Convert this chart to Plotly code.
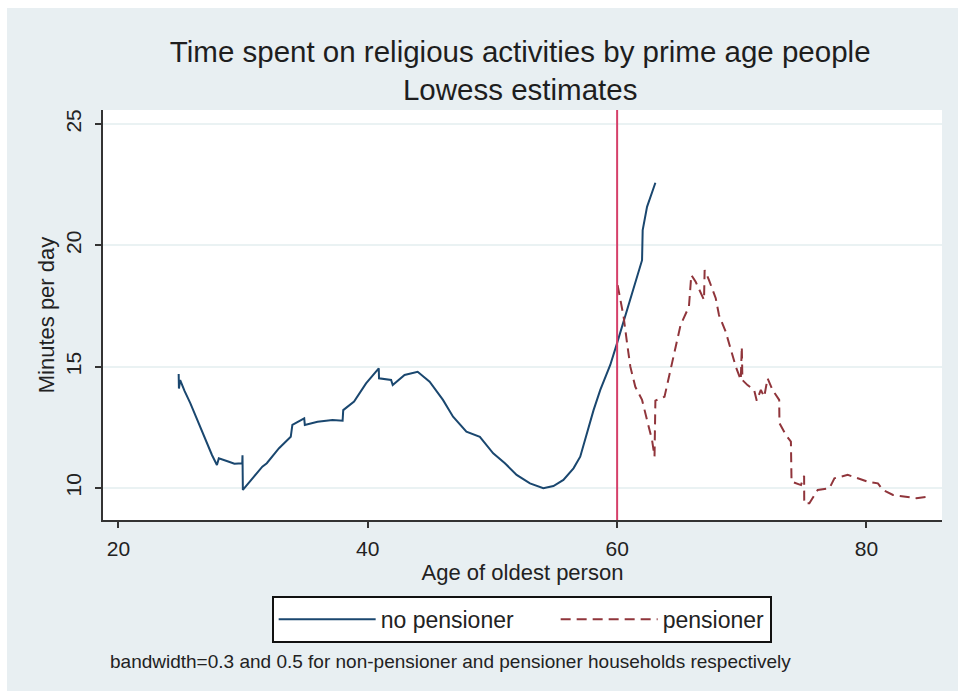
import plotly.graph_objects as go

# Lowess estimates, minutes per day spent on religious activities
age_no_pension = [24.83, 24.85, 24.95, 25.3, 25.77, 26.44, 26.98, 27.5, 27.9, 28.05, 28.86, 29.3,
                  29.93, 29.95, 29.98, 30.4, 30.87, 31.54, 31.9, 32.88, 33.82, 33.95, 34.9, 34.95,
                  35.97, 37.17, 37.98, 38.03, 38.9, 39.86, 40.88, 40.9, 41.87, 42.0, 42.95, 44.0,
                  44.96, 46.03, 46.84, 47.91, 48.99, 50.06, 51.0, 51.94, 53.01, 54.08, 54.89, 55.69,
                  56.5, 57.04, 57.58, 58.11, 58.65, 59.45, 59.99, 61.06, 62.0, 62.05, 62.4, 63.07]
min_no_pension = [14.70, 14.10, 14.45, 14.0, 13.49, 12.67, 11.98, 11.36, 10.95, 11.22, 11.08, 11.0,
                  11.02, 11.35, 9.92, 10.2, 10.47, 10.88, 11.02, 11.64, 12.11, 12.6, 12.87, 12.6,
                  12.73, 12.8, 12.77, 13.21, 13.56, 14.31, 14.93, 14.52, 14.45, 14.24, 14.66, 14.79,
                  14.38, 13.63, 12.94, 12.32, 12.11, 11.43, 11.02, 10.54, 10.19, 9.99, 10.08, 10.33,
                  10.81, 11.29, 12.25, 13.21, 14.04, 15.07, 15.96, 17.75, 19.39, 20.63, 21.59, 22.58]

age_pension = [60.04, 60.26, 60.52, 60.8, 61.06, 61.46, 62.0, 62.4, 62.8, 63.0, 63.07, 63.8,
               64.28, 64.69, 65.09, 65.76, 65.95, 66.3, 66.7, 66.97, 67.02, 67.37, 67.91, 68.17,
               68.71, 69.11, 69.52, 69.92, 70.0, 70.05, 70.46, 70.99, 71.2, 71.53, 71.8, 72.07,
               72.47, 73.0, 73.02, 73.54, 73.94, 73.99, 74.75, 75.0, 75.01, 75.42, 76.09, 77.03,
               77.43, 78.5, 79.31, 80.11, 80.92, 81.32, 82.13, 83.07, 84.0, 84.94]
min_pension = [18.36, 17.75, 17.06, 15.96, 15.0, 14.17, 13.63, 12.8, 11.98, 11.3, 13.6, 13.76,
               14.86, 15.82, 16.72, 17.47, 18.78, 18.5, 18.02, 17.75, 18.98, 18.57, 17.82, 17.13,
               16.44, 15.69, 15.0, 14.45, 15.82, 14.45, 14.24, 14.04, 13.6, 14.04, 13.76, 14.52,
               14.04, 13.63, 12.67, 12.18, 11.91, 10.26, 10.12, 10.5, 9.37, 9.37, 9.92, 9.99,
               10.4, 10.54, 10.4, 10.26, 10.19, 9.92, 9.71, 9.64, 9.58, 9.64]

x_ticks = [20, 40, 60, 80]
y_ticks = [10, 15, 20, 25]
pension_age = 60

title_text = "Time spent on religious activities by prime age people<br>Lowess estimates"
note_text = "bandwidth=0.3 and 0.5 for non-pensioner and pensioner households respectively"

FONT = "Liberation Sans, Arial, sans-serif"
BG = "#e8eff2"
TXT = "#222222"

fig = go.Figure()
fig.add_trace(go.Scatter(
    x=age_no_pension, y=min_no_pension, mode="lines", name="no pensioner",
    line=dict(color="#1a476f", width=2), legendwidth=170,
))
fig.add_trace(go.Scatter(
    x=age_pension, y=min_pension, mode="lines", name="pensioner",
    line=dict(color="#90353b", width=2, dash="10px,6px"),
))

# pension eligibility age
fig.add_shape(type="line", xref="x", yref="y domain", x0=pension_age, x1=pension_age,
              y0=0, y1=1, line=dict(color="#d5406a", width=2), layer="above")

# thin white frame along the left and top edges of the canvas
fig.add_shape(type="rect", xref="paper", yref="paper", x0=-103 / 839, x1=-96 / 839,
              y0=-171 / 410, y1=1 + 110 / 410, line_width=0, fillcolor="white", layer="below")
fig.add_shape(type="rect", xref="paper", yref="paper", x0=-103 / 839, x1=1 + 16 / 839,
              y0=1 + 102 / 410, y1=1 + 110 / 410, line_width=0, fillcolor="white", layer="below")

fig.add_annotation(text=note_text, xref="paper", yref="paper", x=0.006, y=-0.344,
                   xanchor="left", yanchor="middle", showarrow=False,
                   font=dict(family=FONT, size=19, color=TXT))

fig.update_layout(
    width=958, height=691,
    margin=dict(l=103, r=16, t=110, b=171),
    paper_bgcolor=BG, plot_bgcolor="white",
    font=dict(family=FONT, color=TXT),
    title=dict(text=title_text, x=0.543, xanchor="center", y=1 - 62 / 691, yanchor="top",
               font=dict(family=FONT, size=29.5, color="#1e1e1e")),
    showlegend=True,
    legend=dict(orientation="h", x=0.499, xanchor="center", y=-0.185, yanchor="top",
                bgcolor="white", bordercolor="#111111", borderwidth=2,
                itemwidth=97,
                font=dict(family=FONT, size=23, color=TXT)),
    xaxis=dict(range=[18.76, 86.06], tickvals=x_ticks, showgrid=False, zeroline=False,
               showline=True, linecolor="#333333", linewidth=2,
               ticks="outside", ticklen=6, tickcolor="#333333", tickwidth=2,
               tickfont=dict(size=21, color=TXT), ticklabelstandoff=3,
               title=dict(text="Age of oldest person", standoff=0,
                          font=dict(size=22, color=TXT))),
    yaxis=dict(range=[8.68, 25.58], tickvals=y_ticks, showgrid=True, gridcolor="#eaf2f3",
               gridwidth=2, zeroline=False,
               showline=True, linecolor="#333333", linewidth=2,
               ticks="outside", ticklen=6, tickcolor="#333333", tickwidth=2, tickangle=-90,
               tickfont=dict(size=21, color=TXT), ticklabelstandoff=6,
               title=dict(text="Minutes per day", standoff=1,
                          font=dict(size=22, color=TXT))),
)

fig.write_html("out.html")
